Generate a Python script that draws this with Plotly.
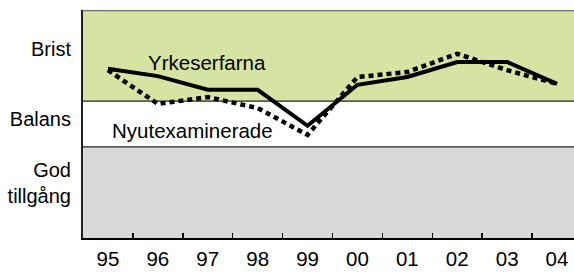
import plotly.graph_objects as go

years = ["95", "96", "97", "98", "99", "00", "01", "02", "03", "04"]
yrkeserfarna = [3.71, 3.55, 3.25, 3.25, 2.46, 3.36, 3.53, 3.86, 3.86, 3.38]
nyutexaminerade = [3.68, 2.94, 3.09, 2.85, 2.26, 3.53, 3.64, 4.04, 3.68, 3.38]

band_names = ["God tillgång", "Balans", "Brist"]
band_lo = [0, 2, 3]
band_hi = [2, 3, 5]
band_colors = ["#d9d9d9", "#ffffff", "#d5e3a3"]
ylabel_vals = [1.2, 2.62, 4.14]
ylabel_text = ["God<br>tillgång", "Balans", "Brist"]

xs = list(range(len(years)))
FONT = "Liberation Sans, Arial, Helvetica, sans-serif"

fig = go.Figure()
fig.add_trace(go.Scatter(x=xs, y=nyutexaminerade, mode="lines",
                         line=dict(color="black", width=4.5, dash="5px,4px"),
                         showlegend=False, hoverinfo="skip"))
fig.add_trace(go.Scatter(x=xs, y=yrkeserfarna, mode="lines",
                         line=dict(color="black", width=4),
                         showlegend=False, hoverinfo="skip"))

shapes = []
for lo, hi, c in zip(band_lo, band_hi, band_colors):
    shapes.append(dict(type="rect", xref="paper", yref="y", x0=0, x1=1, y0=lo, y1=hi,
                       fillcolor=c, line=dict(width=0), layer="below"))
for b in band_lo[1:]:
    shapes.append(dict(type="line", xref="paper", yref="y", x0=0, x1=1, y0=b, y1=b,
                       line=dict(color="#222222", width=1.2), layer="below"))
shapes.append(dict(type="line", xref="paper", yref="y", x0=0, x1=1, y0=band_hi[-1], y1=band_hi[-1],
                   line=dict(color="#6e6e6e", width=2.5), layer="above"))

fig.update_layout(
    width=574, height=272,
    margin=dict(l=83, r=0, t=10, b=34, autoexpand=False),
    paper_bgcolor="white", plot_bgcolor="white",
    shapes=shapes,
    font=dict(family=FONT, size=20, color="black"),
    annotations=[
        dict(x=1.975, y=3.84, xref="x", yref="y", text="Yrkeserfarna", showarrow=False,
             font=dict(size=20.5)),
        dict(x=1.694, y=2.35, xref="x", yref="y", text="Nyutexaminerade", showarrow=False,
             font=dict(size=20.5)),
    ],
)
fig.update_xaxes(range=[-0.5, 9.34], tickmode="array", tickvals=xs, ticktext=years,
                 ticks="", showgrid=False, zeroline=False, automargin=False,
                 showline=True, linecolor="black", linewidth=2,
                 tickfont=dict(size=20.5), ticklabelstandoff=1,
                 minor=dict(tickmode="array", tickvals=[i + 0.5 for i in range(9)],
                            ticks="inside", ticklen=5, tickwidth=1.5, tickcolor="black",
                            showgrid=False))
fig.update_yaxes(range=[0, 5], tickmode="array", tickvals=ylabel_vals, ticktext=ylabel_text,
                 ticks="", showgrid=False, zeroline=False, automargin=False,
                 showline=True, linecolor="#222222", linewidth=2,
                 tickfont=dict(size=20), ticklabelstandoff=6)

fig.write_html("out.html", config={"displayModeBar": False, "staticPlot": True},
               post_script="document.body.style.margin='0';document.body.style.overflow='hidden';")
